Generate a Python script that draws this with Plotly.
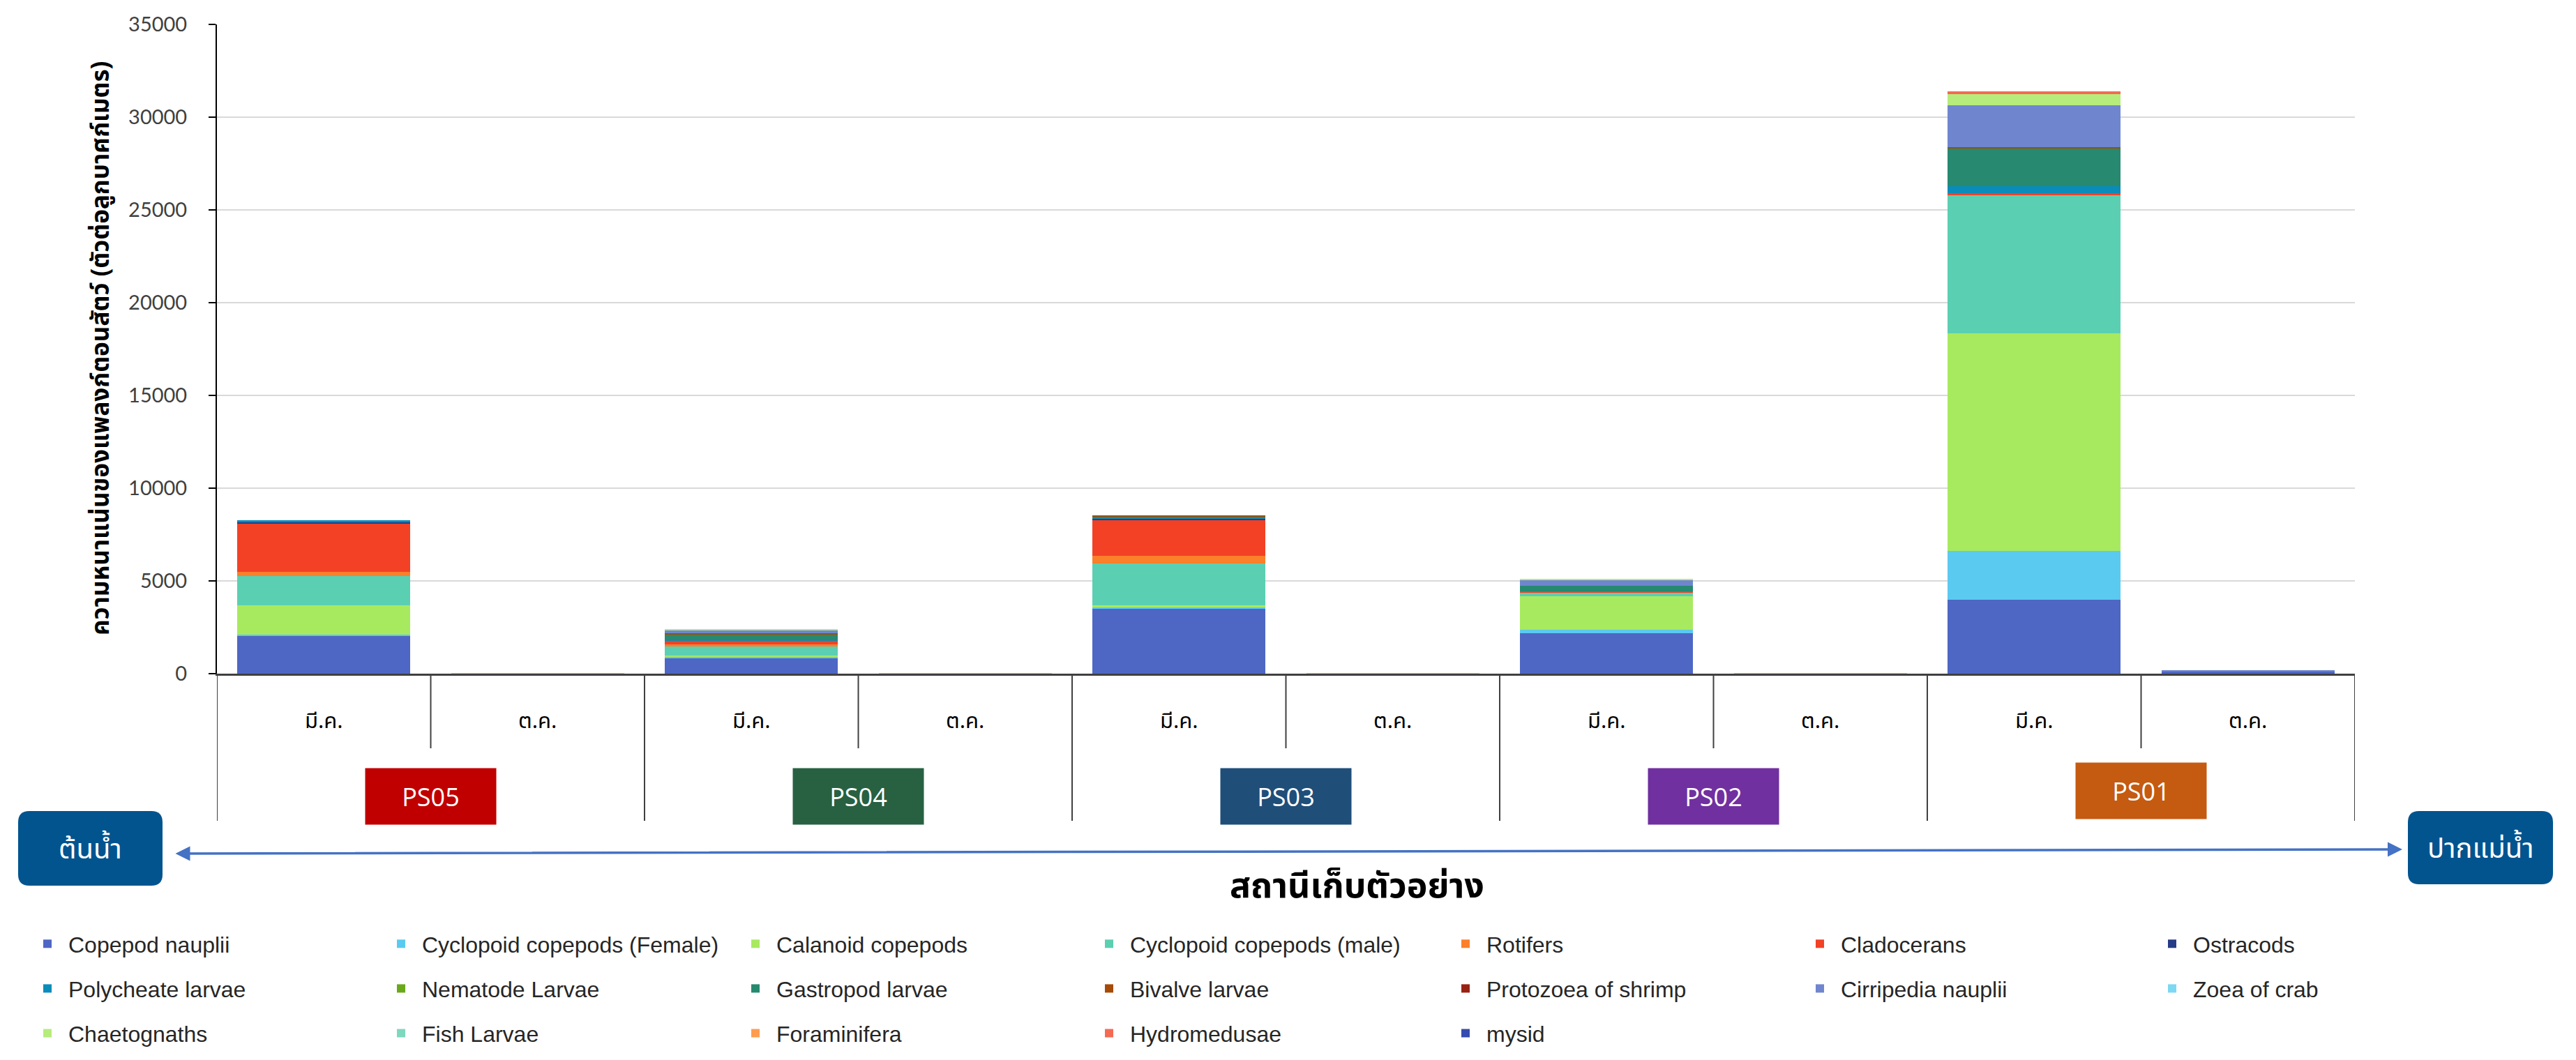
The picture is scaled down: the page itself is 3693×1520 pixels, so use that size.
import plotly.graph_objects as go

# ---------------- data ----------------
stations = ["PS05", "PS04", "PS03", "PS02", "PS01"]
months = ["มี.ค.", "ต.ค."]
station_colors = ["#C00000", "#276142", "#1F4E79", "#7030A0", "#C55A11"]

species = [
    "Copepod nauplii", "Cyclopoid copepods (Female)", "Calanoid copepods",
    "Cyclopoid copepods (male)", "Rotifers", "Cladocerans", "Ostracods",
    "Polycheate larvae", "Nematode Larvae", "Gastropod larvae", "Bivalve larvae",
    "Protozoea of shrimp", "Cirripedia nauplii", "Zoea of crab",
    "Chaetognaths", "Fish Larvae", "Foraminifera", "Hydromedusae", "mysid",
]
species_colors = [
    "#4E67C4", "#5BCAF0", "#A8EA5F", "#5BCFB1", "#FC7F2A", "#F24125", "#263C88",
    "#0A8CBA", "#6AA81B", "#268970", "#A64A05", "#992112", "#6F86CF", "#7DD8F4",
    "#B6EC7B", "#7ED8BD", "#FF9C4E", "#F46A53", "#344BAF",
]

# order: PS05 มี.ค., PS05 ต.ค., PS04 มี.ค., PS04 ต.ค., PS03 มี.ค., PS03 ต.ค., PS02 มี.ค., PS02 ต.ค., PS01 มี.ค., PS01 ต.ค.
copepod_nauplii      = [2050, 15, 830, 15, 3500, 15, 2180, 15, 3990, 120]
cyclopoid_female     = [50, 0, 75, 0, 60, 0, 180, 0, 2640, 0]
calanoid_copepods    = [1585, 15, 75, 15, 130, 15, 1830, 15, 11730, 30]
cyclopoid_male       = [1570, 0, 500, 0, 2260, 0, 200, 0, 7440, 0]
rotifers             = [216, 0, 100, 0, 400, 0, 0, 0, 0, 0]
cladocerans          = [2640, 0, 200, 0, 1930, 0, 60, 0, 90, 0]
ostracods            = [60, 0, 0, 0, 80, 0, 0, 0, 0, 0]
polycheate_larvae    = [90, 0, 40, 0, 50, 0, 0, 0, 380, 0]
nematode_larvae      = [0, 0, 0, 0, 0, 0, 0, 0, 0, 0]
gastropod_larvae     = [0, 0, 300, 0, 60, 0, 305, 0, 2045, 0]
bivalve_larvae       = [0, 0, 75, 0, 60, 0, 0, 0, 75, 0]
protozoea_shrimp     = [0, 0, 0, 0, 0, 0, 0, 0, 0, 0]
cirripedia_nauplii   = [0, 0, 125, 0, 0, 0, 315, 0, 2260, 40]
zoea_crab            = [0, 0, 0, 0, 0, 0, 0, 0, 0, 0]
chaetognaths         = [0, 0, 100, 0, 0, 0, 50, 0, 606, 0]
fish_larvae          = [0, 0, 0, 0, 0, 0, 0, 0, 0, 0]
foraminifera         = [0, 0, 0, 0, 0, 0, 0, 0, 0, 0]
hydromedusae         = [0, 0, 0, 0, 0, 0, 0, 0, 140, 0]
mysid                = [0, 0, 0, 0, 0, 0, 0, 0, 0, 0]

series_values = [
    copepod_nauplii, cyclopoid_female, calanoid_copepods, cyclopoid_male,
    rotifers, cladocerans, ostracods, polycheate_larvae, nematode_larvae,
    gastropod_larvae, bivalve_larvae, protozoea_shrimp, cirripedia_nauplii,
    zoea_crab, chaetognaths, fish_larvae, foraminifera, hydromedusae, mysid,
]

y_ticks = [0, 5000, 10000, 15000, 20000, 25000, 30000, 35000]

# ---------------- layout geometry (reference pixels) ----------------
OFF = 8                      # page body margin of the html page
W, H = 3693 - 2 * OFF, 1520 - 2 * OFF
PL, PR, PT, PB = 311, 3376, 35, 966


def fx(px):
    return (px - PL) / (PR - PL)


def fy(py):
    return (PB - py) / (PB - PT)


def cx(px):
    return (px - OFF) / W


def cy(py):
    return 1 - (py - OFF) / H


THAI = "Noto Sans Thai, Noto Sans Thai UI, Tahoma, Noto Sans, sans-serif"
LEG_FONT = "Liberation Sans, Arial, sans-serif"

x_cats = [f"{s} {m}" for s in stations for m in months]
x_text = [m for s in stations for m in months]

N_COLS = 7
legend_cols_px = [55, 562, 1070, 1577, 2088, 2596, 3101]


def legend_key(col):
    return "legend" if col == 0 else f"legend{col + 1}"


fig = go.Figure()
for i, (name, color, vals) in enumerate(zip(species, species_colors, series_values)):
    fig.add_trace(go.Bar(
        x=x_cats, y=vals, name=name, legendgroup=name,
        legend=legend_key(i % N_COLS),
        marker=dict(color=color, line=dict(width=0)),
    ))

shapes = []
annotations = []

# dividers below the category axis
for k in range(len(x_cats) + 1):
    is_station = (k % 2 == 0)
    shapes.append(dict(
        type="line", xref="x", yref="paper",
        x0=k - 0.5, x1=k - 0.5, y0=0, y1=fy(1177 if is_station else 1073),
        line=dict(color="#404040", width=2),
    ))

# station label boxes
for i, (s, c) in enumerate(zip(stations, station_colors)):
    annotations.append(dict(
        xref="x", yref="paper", x=2 * i + 0.5, y=fy(1142 if i < 4 else 1134),
        text=s, showarrow=False, bgcolor=c, width=187, height=80, borderpad=0,
        font=dict(family="Open Sans, sans-serif", size=36, color="white"),
        xanchor="center", yanchor="middle",
    ))

# river direction arrow
annotations.append(dict(
    xref="paper", yref="paper", x=fx(3444), y=fy(1218),
    axref="pixel", ayref="pixel", ax=-(3444 - 250), ay=6,
    text="", showarrow=True, arrowhead=2, arrowside="end+start",
    arrowsize=1.2, arrowwidth=3.5, arrowcolor="#4472C4", standoff=0, startstandoff=0,
))


def rrect(x0, y0, x1, y1, r):
    def P(px, py):
        return f"{fx(px):.6f},{fy(py):.6f}"
    return (f"M {P(x0 + r, y0)} L {P(x1 - r, y0)} Q {P(x1, y0)} {P(x1, y0 + r)} "
            f"L {P(x1, y1 - r)} Q {P(x1, y1)} {P(x1 - r, y1)} "
            f"L {P(x0 + r, y1)} Q {P(x0, y1)} {P(x0, y1 - r)} "
            f"L {P(x0, y0 + r)} Q {P(x0, y0)} {P(x0 + r, y0)} Z")


end_boxes = [("ต้นน้ำ", 26, 1163, 233, 1270), ("ปากแม่น้ำ", 3452, 1163, 3660, 1268)]
for label, x0, y0, x1, y1 in end_boxes:
    shapes.append(dict(type="path", xref="paper", yref="paper",
                       path=rrect(x0, y0, x1, y1, 16),
                       fillcolor="#02548F", line=dict(width=0)))
    annotations.append(dict(
        xref="paper", yref="paper", x=fx((x0 + x1) / 2), y=fy((y0 + y1) / 2 + 2),
        text=label, showarrow=False,
        font=dict(family=THAI, size=40, color="white"),
        xanchor="center", yanchor="middle",
    ))

# axis titles
annotations.append(dict(
    xref="paper", yref="paper", x=fx(146), y=fy(500),
    text="<b>ความหนาแน่นของแพลงก์ตอนสัตว์ (ตัวต่อลูกบาศก์เมตร)</b>",
    textangle=-90, showarrow=False, xanchor="center", yanchor="middle",
    font=dict(family=THAI, size=35, color="black"),
))
annotations.append(dict(
    xref="paper", yref="paper", x=fx(1945), y=fy(1272),
    text="<b>สถานีเก็บตัวอย่าง</b>", showarrow=False,
    xanchor="center", yanchor="middle",
    font=dict(family=THAI, size=50, color="black"),
))

legends = {}
for col in range(N_COLS):
    legends[legend_key(col)] = dict(
        orientation="v", xref="container", yref="container",
        x=cx(legend_cols_px[col] - 17), y=cy(1326), xanchor="left", yanchor="top",
        traceorder="grouped", tracegroupgap=19.5, itemwidth=50,
        font=dict(family=LEG_FONT, size=32, color="#262626"),
        bgcolor="rgba(0,0,0,0)",
    )

fig.update_layout(
    width=W, height=H,
    margin=dict(l=PL - OFF, r=W - (PR - OFF), t=PT - OFF, b=H - (PB - OFF),
                pad=0, autoexpand=False),
    barmode="stack", bargap=0.19,
    plot_bgcolor="white", paper_bgcolor="white",
    showlegend=True,
    xaxis=dict(
        type="category", categoryorder="array", categoryarray=x_cats,
        tickmode="array", tickvals=x_cats, ticktext=x_text,
        range=[-0.5, len(x_cats) - 0.5], automargin=False,
        showline=True, linecolor="#404040", linewidth=3,
        ticks="", showgrid=False, ticklabelstandoff=38,
        tickfont=dict(family=THAI, size=31, color="black"),
    ),
    yaxis=dict(
        range=[0, 35000], tickmode="array", tickvals=y_ticks,
        ticktext=[str(v) for v in y_ticks], automargin=False,
        showline=True, linecolor="black", linewidth=2,
        ticks="outside", ticklen=10, tickcolor="black", tickwidth=2,
        showgrid=True, gridcolor="#D9D9D9", gridwidth=2, zeroline=False,
        tickfont=dict(family="Lato, sans-serif", size=29, color="#404040"),
        ticklabelstandoff=25,
    ),
    shapes=shapes, annotations=annotations,
    **legends,
)

fig.write_html("out.html")
